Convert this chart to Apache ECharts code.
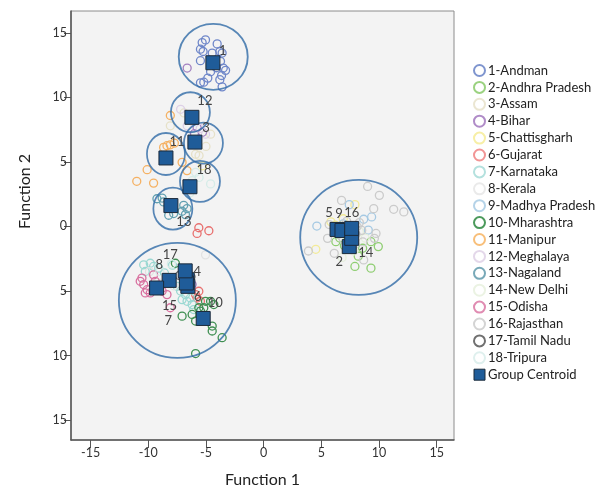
<!DOCTYPE html>
<html>
<head>
<meta charset="utf-8">
<script src="https://cdn.jsdelivr.net/npm/echarts@6/dist/echarts.min.js"></script>
<style>
html, body { margin: 0; padding: 0; background: #fff; }
#chart { width: 602px; height: 493px; }
</style>
</head>
<body>
<div id="chart"></div>
<script>
const groupNames = [
  '1-Andman', '2-Andhra Pradesh', '3-Assam', '4-Bihar', '5-Chattisgharh', '6-Gujarat',
  '7-Karnataka', '8-Kerala', '9-Madhya Pradesh', '10-Mharashtra', '11-Manipur',
  '12-Meghalaya', '13-Nagaland', '14-New Delhi', '15-Odisha', '16-Rajasthan',
  '17-Tamil Nadu', '18-Tripura'
]
const xTicks = [-15, -10, -5, 0, 5, 10, 15]
const yTicks = [-15, -10, -5, 0, 5, 10, 15]

// discriminant scores per state [function1, function2]
const andman = [[-5.33, 14.25], [-5.04, 14.46], [-5.48, 13.74], [-5.25, 13.56], [-4.03, 14.15], [-4.46, 13.44],
  [-3.8, 13.56], [-3.6, 13.44], [-5.48, 12.85], [-3.74, 12.8], [-3.5, 12.28], [-3.3, 12.1], [-3.65, 11.7],
  [-4.84, 11.5], [-5.19, 11.18], [-3.8, 11.38], [-3.6, 10.82], [-5.48, 11.13], [-4.1, 12.3], [-4.6, 12.0]]
const andhra = [[7.91, -3.1], [9.3, -3.23], [9.94, -1.56], [6.26, -1.18], [8.58, -1.69], [9.3, -1.18], [7.0, -1.5], [6.6, -0.9], [8.2, -2.3]]
const assam = [[-8.09, 7.8], [-4.6, 7.15], [-5.9, 5.6], [-5.6, 5.5], [-6.9, 8.8], [-5.0, 6.2]]
const bihar = [[-6.63, 12.28], [-5.77, 7.67], [-5.3, 7.3], [-6.0, 7.2], [-7.0, -4.0], [-6.2, -4.5]]
const chattisgharh = [[7.91, 1.69], [4.52, -1.77], [5.83, 0.36], [6.2, 0.1], [-5.3, 4.7], [6.9, 0.6]]
const gujarat = [[-5.62, -0.1], [-5.77, -0.54], [-4.75, -0.33], [-5.62, -5.02], [-5.77, -5.54], [-5.48, -5.8], [-5.9, -5.28]]
const karnataka = [[-10.4, -2.97], [-9.83, -2.85], [-9.54, -3.1], [-9.1, -3.23], [-10.26, -3.49], [-7.2, -5.0], [-6.78, -5.28],
  [-6.35, -5.54], [-6.64, -5.8], [-6.2, -6.05], [-6.06, -6.44], [-7.07, -5.67], [-7.5, -4.64], [-8.6, -3.6], [-7.9, -3.0]]
const kerala = [[-5.04, -2.2], [-8.5, -3.9], [-7.8, -4.6], [-8.9, -4.4], [-9.9, -3.5], [7.4, -0.7], [6.9, -0.3]]
const madhya = [[4.61, 0.03], [7.42, 1.69], [9.36, 0.74], [8.67, 0.56], [9.07, -0.28], [6.9, 0.2]]
const mharashtra = [[-7.07, -6.95], [-6.2, -6.82], [-5.9, -7.33], [-5.48, -6.56], [-5.04, -5.8], [-4.6, -5.8], [-4.32, -6.05],
  [-5.19, -6.3], [-4.46, -7.72], [-4.46, -8.1], [-3.6, -8.62], [-5.9, -9.85], [-5.62, -6.3], [-7.65, -2.85]]
const manipur = [[-8.09, 8.6], [-8.38, 6.26], [-8.09, 6.33], [-7.74, 6.46], [-7.07, 4.97], [-10.1, 4.4], [-11.0, 3.5],
  [-9.54, 3.36], [-6.64, 4.33], [-8.67, 6.13]]
const meghalaya = [[-7.2, 9.08], [-6.63, 7.8], [-5.04, 7.15], [-6.2, 8.3], [-5.5, 7.6]]
const nagaland = [[-9.25, 2.15], [-8.8, 2.2], [-8.67, 1.9], [-8.15, 1.5], [-7.8, 1.0], [-6.93, 1.64], [-6.64, 1.38],
  [-7.07, 1.18], [-8.23, 0.87], [-6.78, 0.92]]
const newDelhi = [[7.0, -0.6], [8.3, -0.4], [7.8, -1.9], [6.8, -2.4], [8.8, -0.9]]
const odisha = [[-10.55, -4.0], [-10.7, -4.25], [-10.4, -4.5], [-10.1, -4.9], [-9.83, -5.15], [-9.54, -3.75], [-9.4, -4.25],
  [-8.38, -5.28], [-8.09, -6.3], [-8.8, -5.0], [-10.26, -5.15]]
const rajasthan = [[9.01, 3.1], [10.03, 2.41], [6.75, 2.02], [9.54, 1.38], [11.27, 1.33], [12.15, 1.13], [9.74, -0.54],
  [9.6, -0.92], [5.54, -0.92], [6.12, -2.08], [3.88, -1.9], [8.67, -2.59], [5.68, 0.15], [8.3, 0.3], [8.0, -0.6],
  [6.9, -1.0], [7.2, 0.4], [8.6, -1.2], [7.6, -0.4], [8.1, 0.0], [7.3, -0.2], [8.5, -0.3], [7.9, -1.4], [6.5, -0.6]]
const tamilNadu = [[-6.9, -3.3], [-6.3, -3.9], [-7.3, -3.8]]
const tripura = [[-4.6, 3.3], [-5.9, 4.2], [-5.6, 3.8], [-6.2, 3.56], [-6.4, 2.6], [-9.0, -3.5], [-8.0, -2.9]]

const groupPoints = [andman, andhra, assam, bihar, chattisgharh, gujarat, karnataka, kerala, madhya,
  mharashtra, manipur, meghalaya, nagaland, newDelhi, odisha, rajasthan, tamilNadu, tripura]

// group centroids, in group order 1..18
const centroidX = [-4.40, 7.42, -5.96, -6.63, 6.36, -6.57, -6.70, -8.19, 6.79, -5.24, -8.47, -6.22, -8.04, 7.63, -9.28, 7.63, -6.80, -6.39]
const centroidY = [12.69, -1.56, 6.54, -4.13, -0.23, -4.64, -4.38, -4.18, -0.31, -7.13, 5.31, 8.46, 1.62, -0.92, -4.77, -0.15, -3.44, 3.08]

// centres of the hand-drawn cluster circles
const regionX = [-4.37, -6.35, -5.22, -8.47, -5.52, -7.87, -7.48, 8.24]
const regionY = [13.15, 8.85, 6.46, 5.62, 3.5, 1.38, -5.73, -0.85]

// styles
const groupColors = ['#6f87c9', '#8fce72', '#e6e1c8', '#a27fc0', '#f3eb98', '#e8706f', '#9ad8d2', '#e2e2e2', '#a5c9e3',
  '#3f8f52', '#f5b163', '#ddd0e6', '#62a0b1', '#e4eedb', '#d8709f', '#cbcbcb', '#666666', '#d6ece8']
const legendColors = ['#7f95cf', '#9bd280', '#ebe6d2', '#b08cc8', '#f7efa6', '#f29595', '#b4e1de', '#eaeaea', '#b5d3e8',
  '#4c9a5c', '#f8bf7a', '#e4d8ea', '#78a9b8', '#ebf3e3', '#e08cb2', '#d4d4d4', '#707070', '#dff0ee']
const labelOffsets = [[10, -12], [-10, 15], [11, -14], [10, -8], [-8, -17], [10, 10], [-18, 38], [-10, -16], [-3, -17],
  [12, -16], [11, -16], [13, -17], [13, 16], [14, 14], [13, 18], [0, -16], [-15, -16], [14, -17]]
const regionSizes = [[69, 66], [39, 40], [39, 41], [38, 42], [40, 41], [39, 42], [117, 115], [117, 115]]

const FONT = 'Lato'
const chart = echarts.init(document.getElementById('chart'))

const groupSeries = groupNames.map((name, i) => ({
  name: name,
  type: 'scatter',
  symbol: 'circle',
  symbolSize: 8,
  data: groupPoints[i],
  itemStyle: { color: 'transparent', borderColor: groupColors[i], borderWidth: 1.3, opacity: 1 },
  emphasis: { disabled: true },
  z: 2
}))

const regionSeries = {
  name: 'regions',
  type: 'scatter',
  silent: true,
  symbol: 'circle',
  data: regionX.map((x, i) => ({ value: [x, regionY[i]], symbolSize: regionSizes[i] })),
  itemStyle: { color: 'transparent', borderColor: '#2f6aa6', borderWidth: 1.8 },
  z: 3
}

const centroidSeries = {
  name: 'Group Centroid',
  type: 'scatter',
  symbol: 'rect',
  symbolSize: 14,
  data: centroidX.map((x, i) => ({
    value: [x, centroidY[i]],
    label: { offset: labelOffsets[i] }
  })),
  itemStyle: { color: '#1f5c99', borderColor: '#1b2a3b', borderWidth: 1, opacity: 1 },
  label: {
    show: true,
    position: 'inside',
    formatter: p => String(p.dataIndex + 1),
    color: '#444',
    fontSize: 13,
    fontFamily: FONT
  },
  emphasis: { disabled: true },
  z: 4
}

const legendData = groupNames.map((name, i) => ({
  name: name,
  icon: 'circle',
  itemStyle: { color: 'transparent', borderColor: legendColors[i], borderWidth: 2 }
}))
legendData.push({
  name: 'Group Centroid',
  icon: 'rect',
  itemStyle: { color: '#1f5c99', borderColor: '#1b2a3b', borderWidth: 1 }
})

chart.setOption({
  animation: false,
  backgroundColor: '#fff',
  textStyle: { fontFamily: FONT },
  grid: {
    left: 71, right: 148, top: 11, bottom: 49,
    show: true,
    backgroundColor: '#f3f3f3',
    borderColor: '#8c8c8c',
    borderWidth: 1
  },
  legend: {
    orient: 'vertical',
    left: 468,
    top: 59,
    itemWidth: 11,
    itemHeight: 11,
    itemGap: 3.9,
    selectedMode: false,
    textStyle: { fontSize: 13, color: '#222', fontFamily: FONT, padding: [0, 0, 0, -2] },
    data: legendData
  },
  xAxis: {
    type: 'value',
    min: -16.7,
    max: 16.5,
    name: 'Function 1',
    nameLocation: 'middle',
    nameGap: 32,
    nameTextStyle: { fontSize: 16, color: '#222', fontFamily: FONT },
    axisLine: { onZero: false, lineStyle: { color: '#555', width: 1.5 } },
    axisTick: { customValues: xTicks, length: 8, lineStyle: { color: '#555' } },
    axisLabel: { customValues: xTicks, color: '#333', fontSize: 12.5, margin: 6, fontFamily: FONT },
    splitLine: { show: false }
  },
  yAxis: {
    type: 'value',
    min: -16.55,
    max: 16.7,
    name: 'Function 2',
    nameLocation: 'middle',
    nameGap: 38,
    nameTextStyle: { fontSize: 16, color: '#222', fontFamily: FONT, padding: [0, 0, 0, 68] },
    axisLine: { onZero: false, lineStyle: { color: '#555', width: 1.5 } },
    axisTick: { customValues: yTicks, length: 7, lineStyle: { color: '#555' } },
    axisLabel: {
      customValues: yTicks,
      color: '#333',
      fontSize: 12.5,
      margin: 4,
      fontFamily: FONT,
      formatter: v => String(Math.abs(v))
    },
    splitLine: { show: false }
  },
  series: [...groupSeries, regionSeries, centroidSeries]
})
</script>
</body>
</html>
